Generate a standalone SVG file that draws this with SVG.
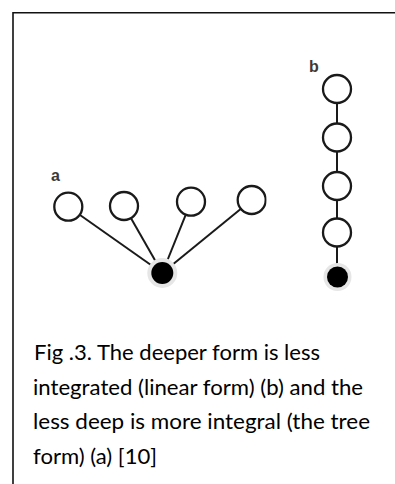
<svg xmlns="http://www.w3.org/2000/svg" width="395" height="484" viewBox="0 0 395 484">
  <style>
    .frame { stroke: #111; stroke-width: 1.6; fill: none; }
    .edge { stroke: #1a1a1a; stroke-width: 2; fill: none; }
    .open { fill: #fff; stroke: #1a1a1a; stroke-width: 2.3; }
    .root { fill: #000; }
    .halo { fill: #e6e6e6; }
    .tag { font-family: "Liberation Sans", Arial, sans-serif; font-size: 16px; font-weight: bold; fill: #3a3a3a; }
    .caption { font-family: Lato, "Open Sans", sans-serif; font-size: 21.5px; fill: #000; }
  </style>
  <defs>
    <clipPath id="cut">
      <rect x="0" y="0" width="266.5" height="484"/>
    </clipPath>
  </defs>
  <rect width="395" height="484" fill="#fff"/>

  <!-- page frame (top and left rule) -->
  <path class="frame" d="M13 484 V12.8 H395"/>

  <!-- connectors -->
  <g id="connectors">
    <line class="edge" x1="68.3" y1="206.7" x2="162.3" y2="273"/>
    <line class="edge" x1="124" y1="206" x2="162.3" y2="273"/>
    <line class="edge" x1="191" y1="201.7" x2="162.3" y2="273"/>
    <line class="edge" x1="251.7" y1="200" x2="162.3" y2="273"/>
    <line class="edge" x1="337" y1="89" x2="337" y2="277"/>
  </g>

  <!-- tree form (a) -->
  <text class="tag" x="51" y="181">a</text>
  <g id="a1"><circle class="open" cx="68.3" cy="206.7" r="14"/></g>
  <g id="a2"><circle class="open" cx="124" cy="206" r="14"/></g>
  <g id="a3"><circle class="open" cx="191" cy="201.7" r="14"/></g>
  <g id="a4" clip-path="url(#cut)"><circle class="open" cx="251.7" cy="200" r="14"/></g>
  <g id="a-root">
    <circle class="halo" cx="162.3" cy="273" r="15"/>
    <circle class="root" cx="162.3" cy="273" r="11"/>
  </g>

  <!-- linear form (b) -->
  <text class="tag" x="309" y="72">b</text>
  <g id="b1"><circle class="open" cx="337" cy="89" r="14"/></g>
  <g id="b2"><circle class="open" cx="337" cy="137.5" r="14"/></g>
  <g id="b3"><circle class="open" cx="337" cy="186" r="14"/></g>
  <g id="b4"><circle class="open" cx="337" cy="232.5" r="14"/></g>
  <g id="b-root">
    <circle class="halo" cx="337.5" cy="277" r="14"/>
    <circle class="root" cx="337.5" cy="277" r="10.5"/>
  </g>

  <!-- caption -->
  <g id="caption" class="caption">
    <text x="34" y="360" textLength="286" lengthAdjust="spacingAndGlyphs">Fig .3. The deeper form is less</text>
    <text x="33" y="394.5" textLength="330" lengthAdjust="spacingAndGlyphs">integrated (linear form) (b) and the</text>
    <text x="33" y="429" textLength="337" lengthAdjust="spacingAndGlyphs">less deep is more integral (the tree</text>
    <text x="33" y="463.5" textLength="124" lengthAdjust="spacingAndGlyphs">form) (a) [10]</text>
  </g>
</svg>
